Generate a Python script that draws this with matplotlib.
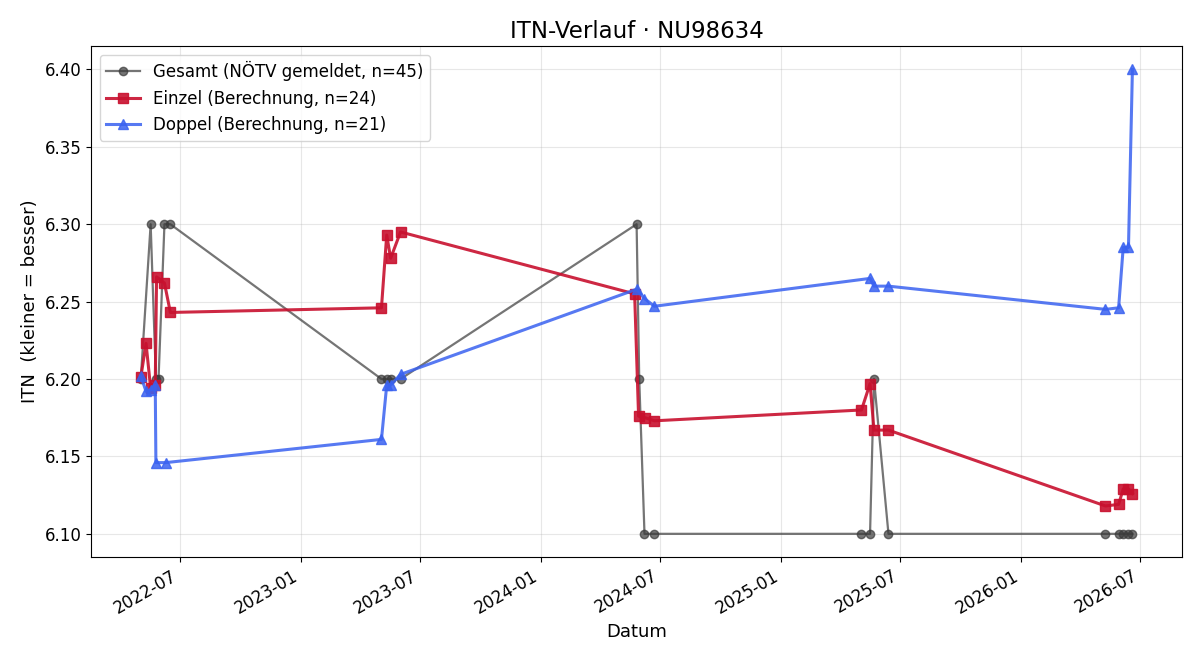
import matplotlib
matplotlib.use("Agg")
import matplotlib.pyplot as plt
import matplotlib.dates as mdates
import pandas as pd

title = "ITN-Verlauf · NU98634"

gesamt_dates = ["2022-05-03", "2022-05-18", "2022-05-26", "2022-05-30", "2022-06-08", "2022-06-17",
                "2023-05-04", "2023-05-12", "2023-05-18", "2023-06-02",
                "2024-05-26", "2024-05-30", "2024-06-07", "2024-06-22",
                "2025-05-03", "2025-05-16", "2025-05-22", "2025-06-13",
                "2026-05-09", "2026-05-29", "2026-06-05", "2026-06-13", "2026-06-19"]
gesamt_vals = [6.20, 6.30, 6.20, 6.20, 6.30, 6.30,
               6.20, 6.20, 6.20, 6.20,
               6.30, 6.20, 6.10, 6.10,
               6.10, 6.10, 6.20, 6.10,
               6.10, 6.10, 6.10, 6.10, 6.10]

einzel_dates = ["2022-05-03", "2022-05-11", "2022-05-18", "2022-05-25", "2022-05-27", "2022-06-08", "2022-06-17",
                "2023-05-04", "2023-05-12", "2023-05-18", "2023-06-02",
                "2024-05-23", "2024-05-29", "2024-06-08", "2024-06-22",
                "2025-05-03", "2025-05-16", "2025-05-22", "2025-06-13",
                "2026-05-09", "2026-05-29", "2026-06-05", "2026-06-13", "2026-06-19"]
einzel_vals = [6.201, 6.223, 6.194, 6.196, 6.266, 6.262, 6.243,
               6.246, 6.293, 6.278, 6.295,
               6.255, 6.176, 6.175, 6.173,
               6.180, 6.197, 6.167, 6.167,
               6.118, 6.119, 6.129, 6.129, 6.126]

doppel_dates = ["2022-05-03", "2022-05-11", "2022-05-18", "2022-05-25", "2022-05-26", "2022-06-10",
                "2023-05-04", "2023-05-12", "2023-05-18", "2023-06-02",
                "2024-05-26", "2024-06-07", "2024-06-22",
                "2025-05-16", "2025-05-22", "2025-06-13",
                "2026-05-09", "2026-05-29", "2026-06-05", "2026-06-13", "2026-06-19"]
doppel_vals = [6.202, 6.192, 6.193, 6.196, 6.146, 6.146,
               6.161, 6.196, 6.196, 6.203,
               6.258, 6.252, 6.247,
               6.265, 6.260, 6.260,
               6.245, 6.246, 6.285, 6.285, 6.400]

labels = ["Gesamt (NÖTV gemeldet, n=45)", "Einzel (Berechnung, n=24)", "Doppel (Berechnung, n=21)"]

fig, ax = plt.subplots(figsize=(12, 6.6), dpi=100)
ax.plot(pd.to_datetime(gesamt_dates), gesamt_vals, marker="o", color="#3a3a3a", alpha=0.7,
        linewidth=1.6, markersize=6, label=labels[0])
ax.plot(pd.to_datetime(einzel_dates), einzel_vals, marker="s", color="#c8102e", alpha=0.9,
        linewidth=2.2, markersize=7, label=labels[1])
ax.plot(pd.to_datetime(doppel_dates), doppel_vals, marker="^", color="#3a62f0", alpha=0.85,
        linewidth=2.2, markersize=7, label=labels[2])

ax.set_title(title, fontsize=16.5)
ax.set_xlabel("Datum", fontsize=13)
ax.set_ylabel("ITN  (kleiner = besser)", fontsize=13)
ax.grid(True, alpha=0.3)
ax.xaxis.set_major_locator(mdates.MonthLocator(bymonth=[1, 7]))
ax.xaxis.set_major_formatter(mdates.DateFormatter("%Y-%m"))
ax.tick_params(labelsize=12)
ax.legend(loc="upper left", fontsize=12)
fig.autofmt_xdate(rotation=30)
fig.subplots_adjust(left=0.076, right=0.985, top=0.93, bottom=0.156)
fig.savefig("out.png", dpi=100)
